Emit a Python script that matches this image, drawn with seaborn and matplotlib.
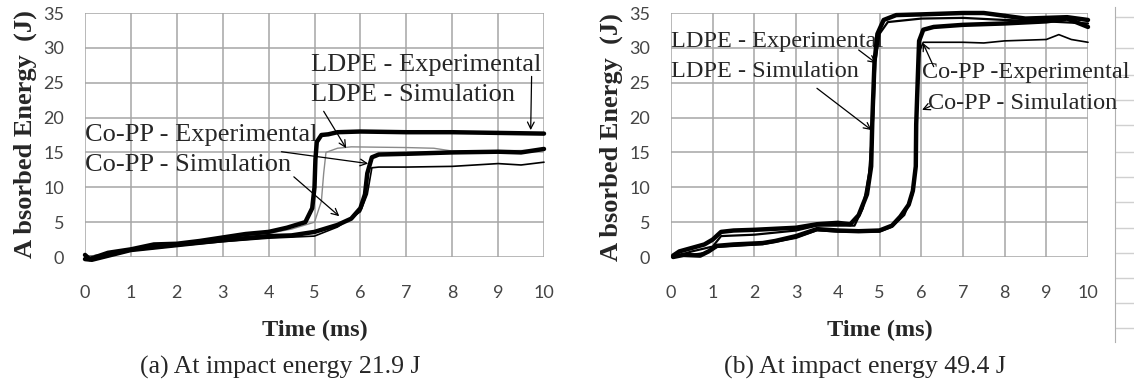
import numpy as np
import pandas as pd
import matplotlib
matplotlib.use('Agg')
import matplotlib.pyplot as plt
import seaborn as sns

# ============================================================
# DATA
# ============================================================

# --- (a) impact energy 21.9 J ---
a_ldpe_exp_t = [0.0, 0.1, 0.5, 1.0, 1.5, 2.0, 2.5, 3.0, 3.5, 4.0, 4.4, 4.8, 4.95, 5.0, 5.02, 5.05, 5.15, 5.3, 5.5, 6.0, 7.0, 8.0, 9.0, 10.0]
a_ldpe_exp_e = [0.3, -0.3, 0.6, 1.1, 1.8, 1.9, 2.3, 2.8, 3.3, 3.6, 4.2, 5.0, 7.0, 10.0, 14.0, 16.5, 17.5, 17.6, 17.9, 18.0, 17.9, 17.9, 17.8, 17.7]

a_ldpe_sim_t = [0.0, 0.5, 1.0, 2.0, 3.0, 4.0, 4.5, 5.0, 5.15, 5.2, 5.25, 5.5, 5.8, 7.0, 7.6, 8.0, 10.0]
a_ldpe_sim_e = [0.0, 0.5, 1.0, 1.8, 2.6, 3.4, 4.0, 5.0, 8.0, 12.0, 15.0, 15.6, 15.8, 15.7, 15.6, 15.2, 15.3]

a_copp_exp_t = [0.0, 0.15, 1.0, 2.0, 3.0, 4.0, 4.5, 5.0, 5.5, 5.8, 6.0, 6.1, 6.15, 6.25, 6.4, 7.0, 8.0, 9.0, 9.5, 10.0]
a_copp_exp_e = [-0.3, -0.4, 1.0, 1.7, 2.4, 3.0, 3.1, 3.6, 4.6, 5.5, 7.0, 9.0, 12.0, 14.3, 14.7, 14.8, 15.0, 15.1, 15.0, 15.5]

a_copp_sim_t = [0.0, 1.0, 2.0, 3.0, 4.0, 5.0, 5.5, 6.0, 6.15, 6.25, 6.4, 7.0, 8.0, 8.5, 9.0, 9.5, 10.0]
a_copp_sim_e = [0.0, 0.9, 1.6, 2.2, 2.7, 3.0, 4.3, 6.5, 9.0, 12.8, 12.9, 12.9, 13.0, 13.2, 13.4, 13.2, 13.6]

# --- (b) impact energy 49.4 J ---
b_ldpe_exp_t = [0.05, 0.2, 0.5, 0.8, 1.0, 1.2, 1.5, 2.0, 3.0, 3.5, 4.0, 4.3, 4.5, 4.7, 4.8, 4.83, 4.88, 4.95, 5.1, 5.4, 6.0, 7.0, 7.5, 8.0, 8.5, 9.0, 9.5, 10.0]
b_ldpe_exp_e = [0.2, 0.8, 1.3, 1.8, 2.5, 3.6, 3.8, 3.9, 4.2, 4.7, 4.9, 4.7, 6.0, 9.0, 13.0, 20.0, 28.0, 32.0, 34.0, 34.7, 34.8, 35.0, 35.0, 34.6, 34.2, 34.3, 34.4, 34.0]

b_ldpe_sim_t = [0.05, 0.5, 1.0, 1.2, 2.0, 3.0, 3.5, 4.0, 4.4, 4.6, 4.75, 4.85, 4.9, 5.0, 5.2, 6.0, 7.0, 8.0, 9.0, 10.0]
b_ldpe_sim_e = [0.0, 0.8, 1.5, 3.0, 3.2, 3.8, 4.5, 4.5, 4.5, 7.0, 12.0, 20.0, 28.0, 32.0, 33.7, 34.2, 34.3, 34.0, 33.8, 33.5]

b_copp_exp_t = [0.05, 0.3, 0.7, 0.9, 1.1, 1.5, 2.2, 2.5, 3.0, 3.5, 4.0, 4.5, 5.0, 5.3, 5.5, 5.7, 5.8, 5.87, 5.88, 5.92, 5.95, 6.05, 6.3, 7.0, 8.0, 9.0, 9.5, 10.0]
b_copp_exp_e = [0.0, 0.3, 0.2, 0.8, 1.6, 1.8, 2.0, 2.3, 3.0, 4.0, 3.8, 3.7, 3.8, 4.5, 5.8, 7.5, 9.5, 13.0, 19.0, 26.0, 31.0, 32.6, 33.0, 33.3, 33.5, 33.8, 34.2, 33.0]

b_copp_sim_t = [0.05, 0.8, 1.1, 2.2, 3.0, 3.5, 4.0, 5.0, 5.3, 5.6, 5.8, 5.88, 5.92, 5.96, 6.05, 7.0, 7.5, 8.0, 9.0, 9.3, 9.6, 9.8, 10.0]
b_copp_sim_e = [0.0, 0.6, 1.4, 1.8, 2.7, 3.8, 3.6, 3.6, 4.3, 6.0, 9.0, 15.0, 25.0, 29.5, 30.8, 30.8, 30.7, 31.0, 31.2, 31.9, 31.2, 31.0, 30.8]

x_ticks = list(range(0, 11))
y_ticks = list(range(0, 36, 5))

captions = ['(a) At impact energy 21.9 J', '(b) At impact energy 49.4 J']

# ============================================================
# HELPERS
# ============================================================

def make_frame(series):
    frames = []
    for name, t, e in series:
        frames.append(pd.DataFrame({'time': t, 'energy': e, 'series': name}))
    return pd.concat(frames, ignore_index=True)

STYLES = {
    'LDPE - Experimental':  dict(color='black',   lw=3.2),
    'LDPE - Simulation':    dict(color='#8a8a8a', lw=1.0),
    'Co-PP - Experimental': dict(color='black',   lw=3.2),
    'Co-PP - Simulation':   dict(color='black',   lw=1.2),
}

def draw_panel(ax, df):
    for name, group in df.groupby('series', sort=False):
        st = STYLES[name]
        sns.lineplot(data=group, x='time', y='energy', ax=ax, sort=False,
                     estimator=None, color=st['color'], linewidth=st['lw'],
                     legend=False, zorder=3)
    for ln in ax.get_lines():
        ln.set_clip_on(False)
    ax.set_xlim(0, 10)
    ax.set_ylim(0, 35)
    ax.set_xticks(x_ticks)
    ax.set_yticks(y_ticks)
    ax.grid(True, color='#a6a6a6', linewidth=1.1)
    for s in ax.spines.values():
        s.set_visible(False)
    ax.tick_params(axis='x', length=6, width=1.1, color='#a6a6a6', pad=14,
                   labelsize=13, labelcolor='#454545')
    ax.tick_params(axis='y', length=5, width=1.1, color='#a6a6a6', pad=10,
                   labelsize=13, labelcolor='#454545')
    for lab in ax.get_xticklabels() + ax.get_yticklabels():
        lab.set_fontfamily('Lato')
    ax.set_xlabel('')
    ax.set_ylabel('')

def arrow(ax, tail, head):
    ax.annotate('', xy=head, xytext=tail,
                arrowprops=dict(arrowstyle='->', lw=0.9, color='black',
                                mutation_scale=12, shrinkA=0, shrinkB=0),
                zorder=4, annotation_clip=False)

SERIF = 'Liberation Serif'

# ============================================================
# FIGURE
# ============================================================

sns.set_style('white')
W, H = 1134, 385
fig = plt.figure(figsize=(W / 100, H / 100), dpi=100)

# spreadsheet cell edge visible at the far right of (b)
cell_rows = [17, 48, 75, 100, 125, 152, 177, 202, 228, 253, 278, 303, 328]
ax_c = fig.add_axes([1115 / W, (H - 342) / H, (W - 1115) / W, 335 / H])
ax_c.set_facecolor('none')
ax_c.set_ylim(342, 7)
ax_c.set_xlim(0, 1)
ax_c.set_yticks(cell_rows)
ax_c.set_xticks([])
ax_c.grid(True, axis='y', color='#d0d0d0', linewidth=1.0)
ax_c.tick_params(length=0, labelleft=False)
for name, s in ax_c.spines.items():
    s.set_visible(name == 'left')
ax_c.spines['left'].set_color('#b0b0b0')

ax_a = fig.add_axes([85 / W, (H - 257) / H, 459 / W, 244 / H])
ax_b = fig.add_axes([671 / W, (H - 257) / H, 417 / W, 244 / H])
ax_a.set_facecolor('none')
ax_b.set_facecolor('none')

df_a = make_frame([
    ('Co-PP - Simulation',   a_copp_sim_t, a_copp_sim_e),
    ('LDPE - Simulation',    a_ldpe_sim_t, a_ldpe_sim_e),
    ('Co-PP - Experimental', a_copp_exp_t, a_copp_exp_e),
    ('LDPE - Experimental',  a_ldpe_exp_t, a_ldpe_exp_e),
])
df_b = make_frame([
    ('Co-PP - Simulation',   b_copp_sim_t, b_copp_sim_e),
    ('LDPE - Simulation',    b_ldpe_sim_t, b_ldpe_sim_e),
    ('Co-PP - Experimental', b_copp_exp_t, b_copp_exp_e),
    ('LDPE - Experimental',  b_ldpe_exp_t, b_ldpe_exp_e),
])

draw_panel(ax_a, df_a)
STYLES['LDPE - Simulation'] = dict(color='black', lw=1.6)
draw_panel(ax_b, df_b)

# ---- panel (a) annotations ----
ax_a.text(4.93, 27.6, 'LDPE - Experimental', fontfamily=SERIF, fontsize=19, va='center', zorder=2)
ax_a.text(4.93, 23.2, 'LDPE - Simulation', fontfamily=SERIF, fontsize=19, va='center', zorder=2)
ax_a.text(0.0, 17.5, 'Co-PP - Experimental', fontfamily=SERIF, fontsize=19, va='center', zorder=2)
ax_a.text(0.0, 13.2, 'Co-PP - Simulation', fontfamily=SERIF, fontsize=19, va='center', zorder=2)
arrow(ax_a, (9.73, 25.9), (9.71, 18.2))
arrow(ax_a, (5.2, 20.9), (5.69, 15.6))
arrow(ax_a, (4.28, 15.1), (6.17, 13.4))
arrow(ax_a, (4.55, 11.5), (5.54, 5.85))

# ---- panel (b) annotations ----
ax_b.text(0.0, 30.9, 'LDPE - Experimental', fontfamily=SERIF, fontsize=17.5, va='center', zorder=2)
ax_b.text(0.0, 26.6, 'LDPE - Simulation', fontfamily=SERIF, fontsize=17.5, va='center', zorder=2)
ax_b.text(6.02, 26.4, 'Co-PP -Experimental', fontfamily=SERIF, fontsize=17.5, va='center', zorder=2, clip_on=False)
ax_b.text(6.17, 22.05, 'Co-PP - Simulation', fontfamily=SERIF, fontsize=17.5, va='center', zorder=2, clip_on=False)
arrow(ax_b, (4.5, 29.7), (4.92, 27.8))
arrow(ax_b, (3.5, 24.2), (4.81, 18.2))
arrow(ax_b, (6.3, 27.3), (6.04, 30.7))
arrow(ax_b, (6.21, 21.6), (6.02, 21.1))

# ---- axis titles and captions ----
ylab = 'A bsorbed Energy  (J)'
fig.text(25 / W, 1 - 134 / H, ylab, rotation=90, ha='center', va='center',
         fontfamily=SERIF, fontweight='bold', fontsize=19)
fig.text(611 / W, 1 - 137 / H, ylab, rotation=90, ha='center', va='center',
         fontfamily=SERIF, fontweight='bold', fontsize=19)
fig.text(314.5 / W, 1 - 330 / H, 'Time (ms)', ha='center', va='center',
         fontfamily=SERIF, fontweight='bold', fontsize=17.5)
fig.text(879.5 / W, 1 - 330 / H, 'Time (ms)', ha='center', va='center',
         fontfamily=SERIF, fontweight='bold', fontsize=17.5)
fig.text(280 / W, 1 - 367 / H, captions[0], ha='center', va='center',
         fontfamily=SERIF, fontsize=18.5)
fig.text(864.6 / W, 1 - 367 / H, captions[1], ha='center', va='center',
         fontfamily=SERIF, fontsize=18.5)

fig.savefig('out.png', dpi=100)
